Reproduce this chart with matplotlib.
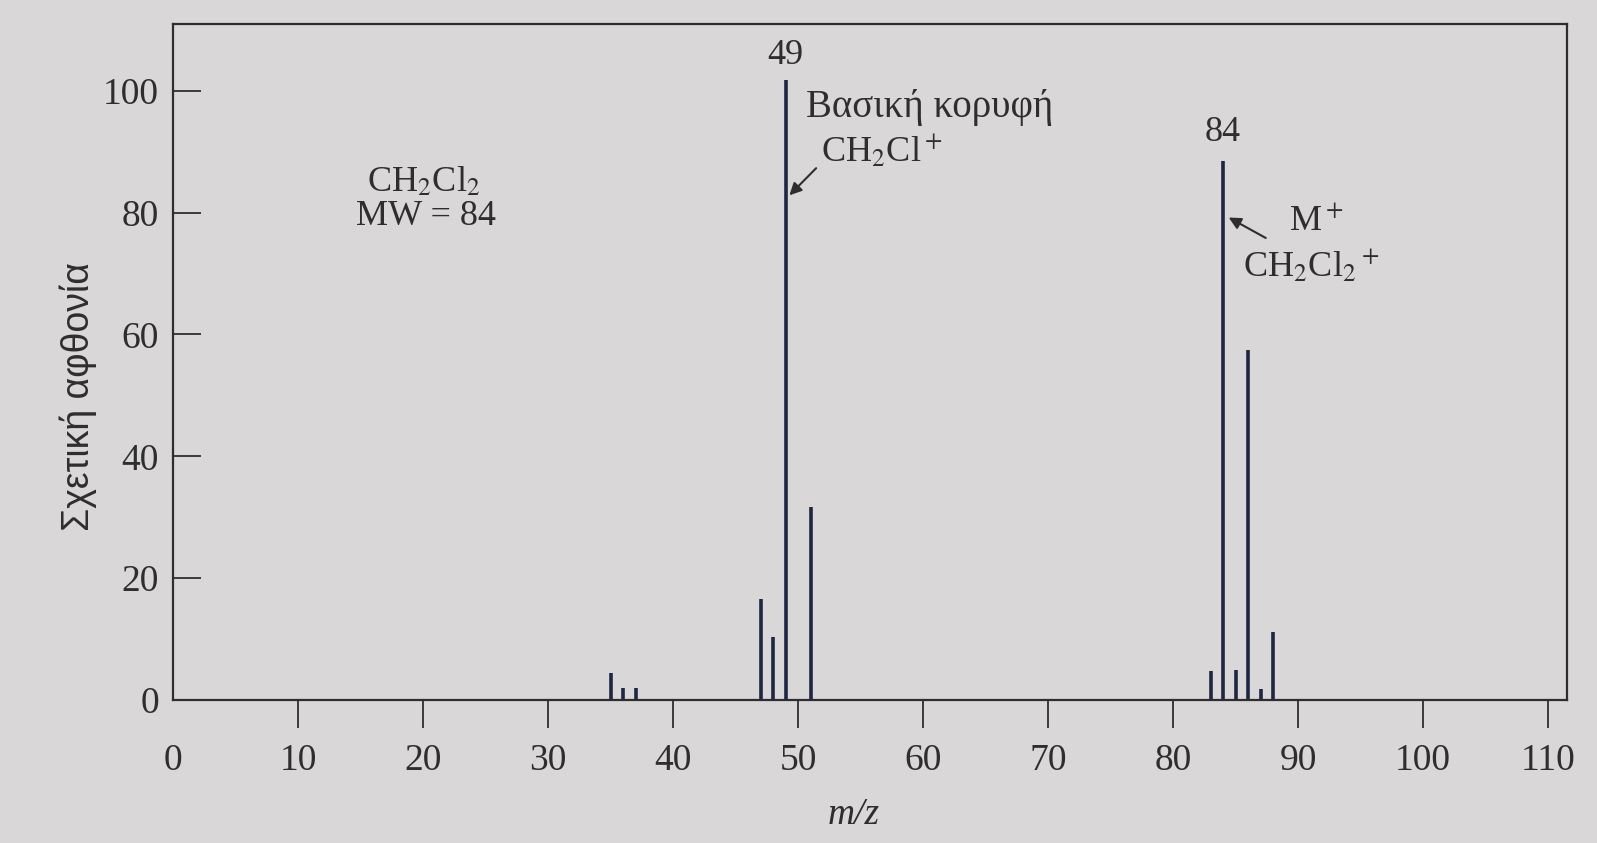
import matplotlib
matplotlib.use("Agg")
import matplotlib.pyplot as plt

# mass spectrum of CH2Cl2
mz = [35, 36, 37, 47, 48, 49, 51, 83, 84, 85, 86, 87, 88]
abundance = [4.4, 2.0, 2.0, 16.5, 10.3, 101.7, 31.7, 4.7, 88.5, 5.0, 57.5, 1.8, 11.2]

x_ticks = list(range(0, 111, 10))
y_ticks = list(range(0, 101, 20))

plt.rcParams['font.family'] = ['Liberation Serif', 'DejaVu Serif']
plt.rcParams['mathtext.fontset'] = 'stix'

bg = '#dad7d8'
ink = '#2e2e2e'
bar_col = '#1d2642'

fig = plt.figure(figsize=(15.97, 8.43), dpi=100, facecolor=bg)
ax = fig.add_axes([0.1083, 0.1696, 0.8729, 0.8024], facecolor=bg)

ax.vlines(mz, 0, abundance, color=bar_col, lw=2.6)

ax.set_xlim(0, 111.5)
ax.set_ylim(0, 111)
ax.set_xticks(x_ticks)
ax.set_yticks(y_ticks)
ax.tick_params(axis='x', direction='out', length=20, width=1.3, pad=11,
               labelsize=27, colors=ink)
ax.tick_params(axis='y', direction='in', length=20, width=1.3, pad=10,
               labelsize=27, colors=ink)
ax.xaxis.get_major_ticks()[0].tick1line.set_visible(False)
for s in ax.spines.values():
    s.set_linewidth(1.6)
    s.set_color(ink)

ax.set_xlabel('m/z', fontsize=27, style='italic', color=ink)
ax.xaxis.set_label_coords(0.488, -0.17)
ax.xaxis.label.set_va('center')
ax.set_ylabel('Σχετική αφθονία', fontsize=27, color=ink,
              family=['Liberation Sans Narrow', 'Liberation Sans', 'DejaVu Sans'])
ax.yaxis.set_label_coords(-0.068, 0.449)
ax.yaxis.label.set_va('center')

# labels
ax.text(20.1, 85.0, r'CH$_2$Cl$_2$', fontsize=26, ha='center', va='center', color=ink)
ax.text(20.2, 79.4, 'MW = 84', fontsize=26, ha='center', va='center', color=ink)

ax.text(49.0, 105.7, '49', fontsize=26, ha='center', va='center', color=ink)
ax.text(50.6, 97.3, 'Βασική κορυφή', fontsize=28, ha='left', va='center', color=ink)
ax.text(51.8, 90.1, r'CH$_2$Cl$^+$', fontsize=26, ha='left', va='center', color=ink)
ax.annotate('', xy=(49.15, 82.5), xytext=(51.6, 87.6),
            arrowprops=dict(arrowstyle='-|>', lw=1.5, color=ink, mutation_scale=18))

ax.text(84.0, 93.2, '84', fontsize=26, ha='center', va='center', color=ink)
ax.text(89.3, 78.4, r'M$^+$', fontsize=26, ha='left', va='center', color=ink)
ax.text(85.6, 71.1, r'CH$_2$Cl$_2{}^+$', fontsize=26, ha='left', va='center', color=ink)
ax.annotate('', xy=(84.25, 79.4), xytext=(87.6, 75.6),
            arrowprops=dict(arrowstyle='-|>', lw=1.5, color=ink, mutation_scale=18))

fig.savefig('out.png', dpi=100, facecolor=bg)
